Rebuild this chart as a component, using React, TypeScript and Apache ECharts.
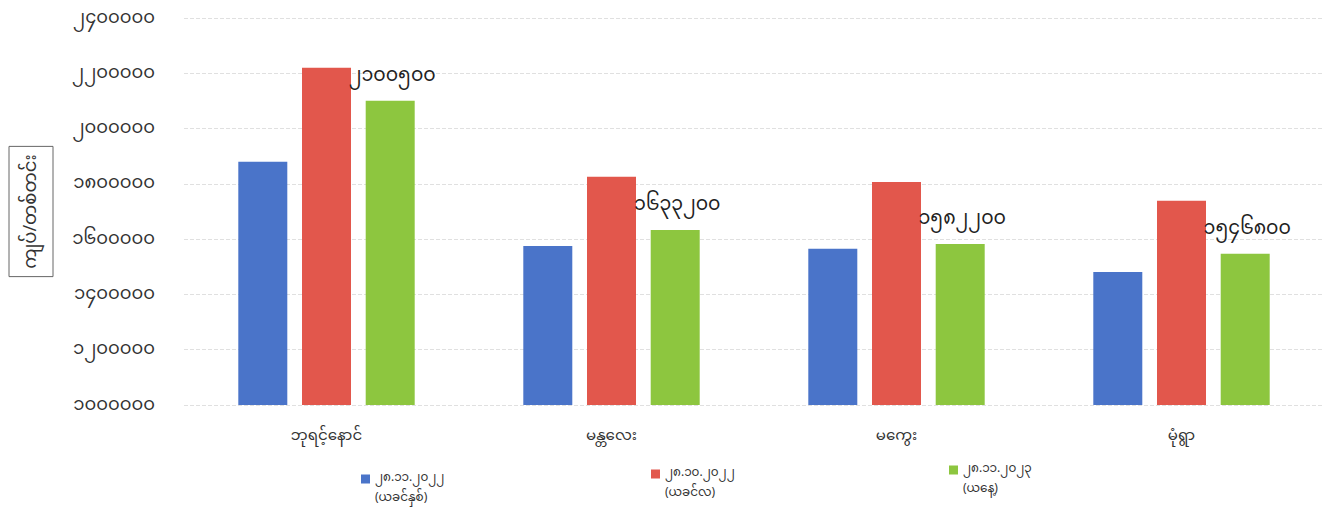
import React, { useEffect, useRef } from "react";
import * as echarts from "echarts";

const categories = ["ဘုရင့်နောင်", "မန္တလေး", "မကွေး", "မုံရွာ"];
const seriesNames = [
  "၂၈.၁၁.၂၀၂၂\n(ယခင်နှစ်)",
  "၂၈.၁၀.၂၀၂၂\n(ယခင်လ)",
  "၂၈.၁၁.၂၀၂၃\n(ယနေ့)",
];
const prevYear = [1880000, 1575000, 1565000, 1481000];
const prevMonth = [2220000, 1826000, 1807000, 1739000];
const today = [2100500, 1633200, 1582200, 1546800];
const todayLabels = ["၂၁၀၀၅၀၀", "၁၆၃၃၂၀၀", "၁၅၈၂၂၀၀", "၁၅၄၆၈၀၀"];
const yTickLabels = [
  "၁၀၀၀၀၀၀",
  "၁၂၀၀၀၀၀",
  "၁၄၀၀၀၀၀",
  "၁၆၀၀၀၀၀",
  "၁၈၀၀၀၀၀",
  "၂၀၀၀၀၀၀",
  "၂၂၀၀၀၀၀",
  "၂၄၀၀၀၀၀",
];
const yMin = 1000000;
const yMax = 2400000;
const yStep = 200000;
const yAxisTitle = "ကျပ်/တစ်တင်း";

const colors = ["#4A74C9", "#E2574C", "#8DC63F"];
const FONT = '"Noto Sans Myanmar", "Padauk", "Myanmar Text", "Noto Sans", "DejaVu Sans", sans-serif';
const ICON = "path://M0,0L9,0L9,9L0,9Z M0,27L0.01,27L0,27Z";

export default function App() {
  const ref = useRef<HTMLDivElement>(null);
  useEffect(() => {
    if (!ref.current) return;
    const chart = echarts.init(ref.current, null, { renderer: "svg" });
    const legendPos = [
      { left: 361, top: 472 },
      { left: 651, top: 467 },
      { left: 949, top: 463 },
    ];
    chart.setOption({
      animation: false,
      backgroundColor: "#ffffff",
      textStyle: { fontFamily: FONT },
      grid: {
        left: 184,
        right: 5,
        top: 18,
        bottom: 108,
        containLabel: false,
        outerBoundsMode: "none",
      },
      legend: seriesNames.map((n, i) => ({
        data: [n],
        left: legendPos[i].left,
        top: legendPos[i].top,
        padding: 0,
        icon: ICON,
        itemWidth: 9,
        itemHeight: 27,
        selectedMode: false,
        formatter: (name: string) =>
          name
            .split("\n")
            .map((s) => `{t|${s}}`)
            .join("\n"),
        textStyle: {
          fontSize: 12,
          color: "#333",
          fontFamily: FONT,
          rich: { t: { fontSize: 12, lineHeight: 20, color: "#333", fontFamily: FONT } },
        },
      })),
      xAxis: {
        type: "category",
        data: categories,
        axisLine: { show: false },
        axisTick: { show: false },
        axisLabel: { fontSize: 15, color: "#333", margin: 24, fontFamily: FONT },
      },
      yAxis: {
        type: "value",
        min: yMin,
        max: yMax,
        interval: yStep,
        axisLine: { show: false },
        axisTick: { show: false },
        axisLabel: {
          fontSize: 18,
          color: "#333",
          margin: 29,
          fontFamily: FONT,
          formatter: (v: number) => yTickLabels[Math.round((v - yMin) / yStep)] ?? "",
        },
        splitLine: { lineStyle: { color: "#e0e0e0", type: "dashed", width: 1 } },
        name: yAxisTitle,
        nameLocation: "middle",
        nameRotate: 90,
        nameGap: 131,
        nameTextStyle: {
          fontSize: 18,
          lineHeight: 30,
          color: "#333",
          fontFamily: FONT,
          borderColor: "#666",
          borderWidth: 1,
          padding: [7, 8, 7, 8],
        },
      },
      series: [
        {
          name: seriesNames[0],
          type: "bar",
          data: prevYear,
          barWidth: 49,
          barGap: "30%",
          itemStyle: { color: colors[0] },
        },
        {
          name: seriesNames[1],
          type: "bar",
          data: prevMonth,
          barWidth: 49,
          barGap: "30%",
          itemStyle: { color: colors[1] },
        },
        {
          name: seriesNames[2],
          type: "bar",
          data: today,
          barWidth: 49,
          barGap: "30%",
          itemStyle: { color: colors[2] },
          label: {
            show: true,
            position: "top",
            distance: 15,
            offset: [2, 0],
            fontSize: 19,
            color: "#222",
            fontFamily: FONT,
            formatter: (p: any) => todayLabels[p.dataIndex],
          },
        },
      ],
    });
    return () => chart.dispose();
  }, []);
  return (
    <div
      ref={ref}
      style={{ position: "absolute", left: 0, top: 0, width: 1329, height: 513 }}
    />
  );
}
